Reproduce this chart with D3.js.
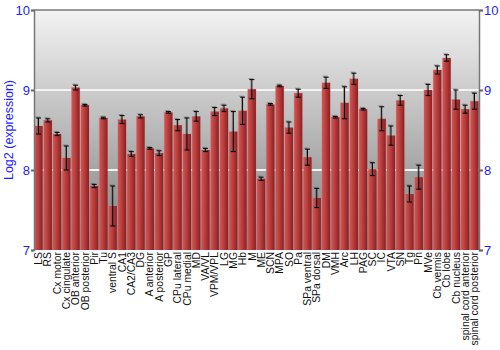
<!DOCTYPE html>
<html lang="en">
<head>
    <meta charset="UTF-8">
    <title>Log2 expression by region</title>
    <script src="https://d3js.org/d3.v7.min.js"></script>
    <style>
        body { margin: 0; background: #fff; }
        text { font-family: "Liberation Sans", Arial, sans-serif; }
    </style>
</head>
<body>
    <svg id="chart" width="500" height="350"></svg>
    <script>
        // Regions, mean log2 expression, error (half length)
        const regions = ["LS", "RS", "Cx motor", "Cx cingulate", "OB anterior", "OB posterior", "Pir", "Tu",
            "ventral S", "CA1", "CA2/CA3", "DG", "A anterior", "A posterior", "GP", "CPu lateral", "CPu medial",
            "MD", "VA/VL", "VPM/VPL", "LG", "MG", "Hb", "M", "ME", "SCN", "MPA", "SO", "Pa", "SPa ventral",
            "SPa dorsal", "DM", "VMH", "Arc", "LH", "PAG", "SC", "IC", "VTA", "SN", "Tg", "Pn", "MVe",
            "Cb vermis", "Cb lobe", "Cb nucleus", "spinal cord anterior", "spinal cord posterior"];
        const values = [8.55, 8.62, 8.45, 8.15, 9.03, 8.81, 7.80, 8.65,
            7.55, 8.63, 8.20, 8.67, 8.27, 8.21, 8.72, 8.56, 8.45,
            8.67, 8.25, 8.73, 8.77, 8.48, 8.74, 9.01, 7.89, 8.82, 9.05, 8.53, 8.96, 8.16,
            7.65, 9.09, 8.66, 8.84, 9.14, 8.76, 8.01, 8.64, 8.43, 8.87, 7.70, 7.91, 9.00,
            9.25, 9.40, 8.88, 8.76, 8.86];
        const errors = [0.10, 0.02, 0.02, 0.15, 0.03, 0.01, 0.02, 0.01,
            0.25, 0.05, 0.03, 0.02, 0.01, 0.03, 0.01, 0.07, 0.20,
            0.06, 0.02, 0.05, 0.04, 0.25, 0.17, 0.12, 0.02, 0.01, 0.01, 0.07, 0.05, 0.10,
            0.12, 0.07, 0.01, 0.20, 0.07, 0.01, 0.08, 0.15, 0.12, 0.06, 0.10, 0.15, 0.07,
            0.05, 0.04, 0.12, 0.05, 0.10];
        const yTicks = [7, 8, 9, 10];

        const data = regions.map((r, i) => ({ region: r, value: values[i], err: errors[i] }));

        const margin = { top: 10, right: 21, bottom: 100, left: 34 };
        const W = 500, H = 350;
        const svg = d3.select("#chart");

        const x = d3.scaleBand()
            .domain(regions)
            .range([margin.left, W - margin.right])
            .paddingInner(0.12)
            .paddingOuter(0.05);

        const y = d3.scaleLinear()
            .domain([7, 10])
            .range([H - margin.bottom, margin.top]);

        const defs = svg.append("defs");
        const bg = defs.append("linearGradient").attr("id", "bg")
            .attr("x1", 0).attr("y1", 0).attr("x2", 0).attr("y2", 1);
        bg.append("stop").attr("offset", "0%").attr("stop-color", "#f3f3f3");
        bg.append("stop").attr("offset", "100%").attr("stop-color", "#7e7e7e");

        const barGrad = defs.append("linearGradient").attr("id", "bar")
            .attr("x1", 0).attr("y1", 0).attr("x2", 1).attr("y2", 0);
        barGrad.append("stop").attr("offset", "0%").attr("stop-color", "#d05656");
        barGrad.append("stop").attr("offset", "40%").attr("stop-color", "#bc4040");
        barGrad.append("stop").attr("offset", "100%").attr("stop-color", "#8a2020");

        // plot background
        svg.append("rect")
            .attr("x", margin.left).attr("y", margin.top)
            .attr("width", W - margin.left - margin.right)
            .attr("height", H - margin.top - margin.bottom)
            .attr("fill", "url(#bg)");

        // grid lines at 8 and 9
        svg.append("g").selectAll("line")
            .data(yTicks.filter(d => d > 7 && d < 10))
            .enter().append("line")
            .attr("x1", margin.left).attr("x2", W - margin.right)
            .attr("y1", d => y(d)).attr("y2", d => y(d))
            .attr("stroke", "#f4f4f4").attr("stroke-width", 2);

        // bar shadows
        svg.append("g").selectAll("rect")
            .data(data)
            .enter().append("rect")
            .attr("x", d => x(d.region) - 0.5)
            .attr("y", d => y(d.value) - 0.5)
            .attr("width", x.bandwidth() + 1)
            .attr("height", d => y(7) - y(d.value) + 0.5)
            .attr("fill", "#e08080").attr("opacity", 0.45);

        // bars
        svg.append("g").selectAll("rect")
            .data(data)
            .enter().append("rect")
            .attr("x", d => x(d.region))
            .attr("y", d => y(d.value))
            .attr("width", x.bandwidth())
            .attr("height", d => y(7) - y(d.value))
            .attr("fill", "url(#bar)");

        // error bars (gray shadow then black)
        const eb = svg.append("g");
        [{ dx: -1, dy: -1, c: "#555", o: 0.5 }, { dx: 0, dy: 0, c: "#000", o: 1 }].forEach(s => {
            const g = eb.append("g").attr("transform", `translate(${s.dx},${s.dy})`)
                .attr("stroke", s.c).attr("opacity", s.o).attr("stroke-width", 1);
            data.forEach(d => {
                const cx = x(d.region) + x.bandwidth() / 2;
                const y1 = y(d.value + d.err), y2 = y(d.value - d.err);
                g.append("line").attr("x1", cx).attr("x2", cx).attr("y1", y1).attr("y2", y2);
                g.append("line").attr("x1", cx - 2.5).attr("x2", cx + 2.5).attr("y1", y1).attr("y2", y1);
                g.append("line").attr("x1", cx - 2.5).attr("x2", cx + 2.5).attr("y1", y2).attr("y2", y2);
            });
        });

        // top frame line
        svg.append("line")
            .attr("x1", margin.left).attr("x2", W - margin.right)
            .attr("y1", margin.top).attr("y2", margin.top)
            .attr("stroke", "#777").attr("stroke-width", 1.5);

        // left and right axes
        const left = svg.append("g")
            .attr("transform", `translate(${margin.left},0)`)
            .call(d3.axisLeft(y).tickValues(yTicks).tickFormat(d3.format("d")).tickSize(3).tickPadding(1));
        const right = svg.append("g")
            .attr("transform", `translate(${W - margin.right},0)`)
            .call(d3.axisRight(y).tickValues(yTicks).tickFormat(d3.format("d")).tickSize(4).tickPadding(1));
        [left, right].forEach(a => {
            a.select(".domain").attr("stroke", "#777").attr("stroke-width", 1.5);
            a.selectAll(".tick line").attr("stroke", "#666").attr("stroke-width", 2);
            a.selectAll(".tick text").attr("fill", "#1e1eff").attr("font-size", 13)
                .attr("font-family", "Liberation Sans, Arial, sans-serif");
        });

        // x labels
        const xAxis = svg.append("g")
            .attr("transform", `translate(0,${H - margin.bottom})`)
            .call(d3.axisBottom(x).tickSize(0).tickPadding(0));
        xAxis.select(".domain").remove();
        xAxis.selectAll(".tick text")
            .attr("transform", "rotate(-90)")
            .attr("text-anchor", "end")
            .attr("x", -2).attr("y", 0).attr("dy", "0.35em")
            .attr("fill", "#111").attr("font-size", 10.4)
            .attr("font-family", "Liberation Sans, Arial, sans-serif");

        // y title
        svg.append("text")
            .attr("transform", `translate(9,${(margin.top + H - margin.bottom) / 2}) rotate(-90)`)
            .attr("text-anchor", "middle")
            .attr("dy", "0.35em")
            .attr("fill", "#1e1eff").attr("font-size", 12.5)
            .text("Log2 (expression)");
    </script>
</body>
</html>
